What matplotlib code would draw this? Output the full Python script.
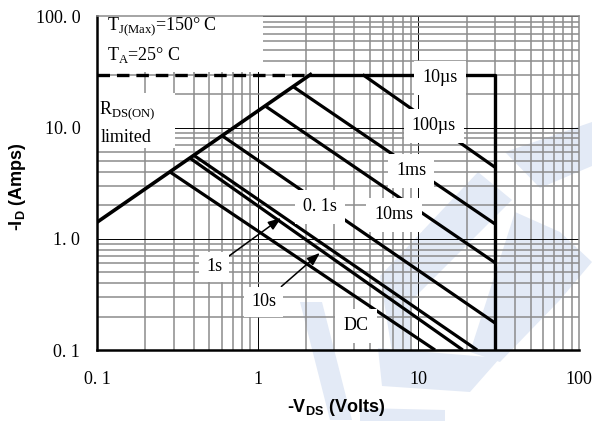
import matplotlib
matplotlib.use('Agg')
import matplotlib.pyplot as plt
from matplotlib.patches import Polygon, Rectangle
from matplotlib.ticker import FixedLocator, FixedFormatter, LogLocator, NullFormatter

plt.rcParams['font.family'] = ['Liberation Serif', 'DejaVu Serif']
plt.rcParams['mathtext.fontset'] = 'custom'
plt.rcParams['mathtext.rm'] = 'Liberation Serif'
plt.rcParams['lines.scale_dashes'] = False

# Safe operating area data (-VDS in volts, -ID in amps)
rds_v = [0.1, 2.13]          # RDS(ON) limit line
rds_i = [1.41, 30.0]
i_max = 30.0                 # package current limit
v_max = 30.0                 # BVDSS limit
i_min = 0.1

pulse_names = ['100µs', '1ms', '10ms', '0. 1s', '1s', '10s', 'DC']
pulse_start_v = [4.5, 1.66, 1.11, 0.60, 0.40, 0.378, 0.284]
pulse_start_i = [30.0, 23.4, 15.7, 8.46, 5.64, 5.33, 4.0]
pulse_end_v = [30.0, 30.0, 30.0, 30.0, 23.2, 18.9, 12.7]
pulse_end_i = [4.4, 1.36, 0.61, 0.175, 0.1, 0.1, 0.1]

x_ticks = [0.1, 1, 10, 100]
x_labels = ['0. 1', '1', '10', '100']
y_ticks = [0.1, 1, 10, 100]
y_labels = ['0. 1', '1. 0', '10. 0', '100. 0']

fig = plt.figure(figsize=(5.92, 4.21), dpi=100)
fig.patch.set_facecolor('white')

# faint logo watermark behind the chart (figure pixel coords, y down)
wm = [
    [(505, 152), (592, 122), (592, 166), (540, 188)],
    [(478, 172), (512, 200), (410, 302), (380, 276)],
    [(380, 276), (410, 302), (412, 352), (392, 352)],
    [(515, 212), (560, 232), (592, 262), (560, 300), (500, 362), (470, 352)],
    [(300, 302), (322, 302), (352, 420), (330, 420)],
    [(378, 348), (500, 358), (470, 392), (382, 386)],
    [(360, 408), (445, 410), (445, 421), (360, 421)],
]
for poly in wm:
    pts = [(x / 592, 1 - y / 421) for x, y in poly]
    fig.add_artist(Polygon(pts, closed=True, transform=fig.transFigure,
                           fc='#e3eaf6', ec='none', zorder=-1))

ax = fig.add_axes([0.1639, 0.1686, 0.8142, 0.7924])
ax.patch.set_alpha(0)
ax.set_xscale('log')
ax.set_yscale('log')
ax.set_xlim(0.1, 100)
ax.set_ylim(0.1, 100)

ax.xaxis.set_major_locator(FixedLocator(x_ticks))
ax.xaxis.set_major_formatter(FixedFormatter(x_labels))
ax.yaxis.set_major_locator(FixedLocator(y_ticks))
ax.yaxis.set_major_formatter(FixedFormatter(y_labels))
ax.xaxis.set_minor_locator(LogLocator(base=10, subs=range(2, 10)))
ax.yaxis.set_minor_locator(LogLocator(base=10, subs=range(2, 10)))
ax.xaxis.set_minor_formatter(NullFormatter())
ax.yaxis.set_minor_formatter(NullFormatter())
ax.tick_params(which='both', length=0)
ax.tick_params(axis='x', pad=15, labelsize=13)
ax.tick_params(axis='y', pad=12, labelsize=13)

ax.set_axisbelow(True)
ax.grid(which='minor', color='#8c8c8c', lw=1.1)
ax.grid(which='major', color='black', lw=0.7)

for s in ['left', 'bottom']:
    ax.spines[s].set_linewidth(1.8)
    ax.spines[s].set_color('black')
for s in ['top', 'right']:
    ax.spines[s].set_linewidth(1.1)
    ax.spines[s].set_color('#8c8c8c')

# blank areas behind the condition notes
ax.add_patch(Rectangle((0, 0.834), 0.344, 0.166, transform=ax.transAxes,
                       fc='white', ec='none', zorder=2))
ax.add_patch(Rectangle((0, 0.606), 0.162, 0.165, transform=ax.transAxes,
                       fc='white', ec='none', zorder=2))

# boundary lines
ax.plot(rds_v, rds_i, color='black', lw=2.6, zorder=3)
ax.plot([i_min, rds_v[1]], [i_max, i_max], color='black', lw=2.4,
        ls=(0, (9, 5)), zorder=3)
ax.plot([rds_v[1], v_max, v_max], [i_max, i_max, i_min], color='black',
        lw=2.4, zorder=3)
for sv, si, ev, ei in zip(pulse_start_v, pulse_start_i, pulse_end_v, pulse_end_i):
    ax.plot([sv, ev], [si, ei], color='black', lw=2.3, zorder=3,
            solid_capstyle='butt')

ax.text(13.6, 28.0, '10µs', ha='center', va='center', fontsize=13,
        bbox=dict(fc='white', ec='none', pad=6), zorder=5)
label_pos = {'100µs': (12.5, 10.4), '1ms': (9.0, 4.08), '10ms': (7.05, 1.64),
             '0. 1s': (2.44, 1.94), 'DC': (4.09, 0.165)}
for name in pulse_names:
    if name in label_pos:
        x, y = label_pos[name]
        ax.text(x, y, name, ha='center', va='center', fontsize=13,
                bbox=dict(fc='white', ec='none', pad=6), zorder=5)

arrow = dict(arrowstyle='-|>,head_length=0.6,head_width=0.22', color='black',
             lw=1.1, shrinkA=0, shrinkB=0)
ax.annotate('1s', xy=(1.40, 1.54), xytext=(0.535, 0.559), ha='center',
            va='center', fontsize=13, bbox=dict(fc='white', ec='none', pad=5),
            arrowprops=arrow, zorder=5)
ax.annotate('10s', xy=(2.44, 0.747), xytext=(1.09, 0.271), ha='center',
            va='center', fontsize=13, bbox=dict(fc='white', ec='none', pad=5),
            arrowprops=arrow, zorder=5)

ax.text(0.021, 0.972, r'T$_{\mathregular{J(Max)}}$=150° C', transform=ax.transAxes,
        ha='left', va='center', fontsize=13, zorder=5)
ax.text(0.021, 0.885, r'T$_{\mathregular{A}}$=25° C', transform=ax.transAxes,
        ha='left', va='center', fontsize=13, zorder=5)
ax.text(0.004, 0.72, r'R$_{\mathregular{DS(ON)}}$', transform=ax.transAxes,
        ha='left', va='center', fontsize=13, zorder=5)
ax.text(0.008, 0.638, 'limited', transform=ax.transAxes,
        ha='left', va='center', fontsize=13, zorder=5)

fig.text(0.029, 0.556, r'-I$_\mathregular{D}$ (Amps)', rotation=90, ha='center',
         va='center', fontsize=13, fontweight='bold', family='Liberation Sans')
fig.text(0.567, 0.033, r'-V$_\mathregular{DS}$ (Volts)', ha='center',
         va='center', fontsize=13, fontweight='bold', family='Liberation Sans')

fig.savefig('out.png', dpi=100)
